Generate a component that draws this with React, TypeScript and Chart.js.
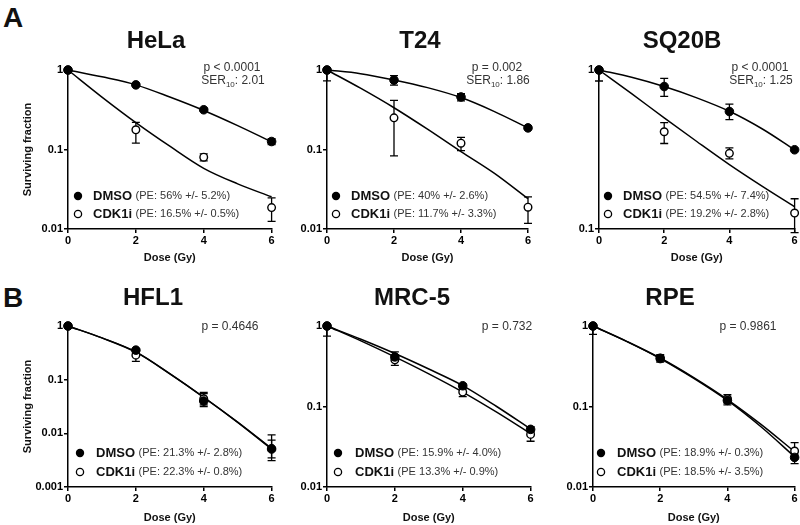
import React, { useEffect, useRef } from "react";
import { Chart, registerables } from "chart.js";
Chart.register(...registerables);

// ---------- data ----------
const doses = [0, 2, 4, 6];
const fitDoses = [0, 1, 2, 3, 4, 5, 6];
const xTicks = [0, 2, 4, 6];
const yTicks3 = [1, 0.1, 0.01];
const yTicks2 = [1, 0.1];
const yTicks4 = [1, 0.1, 0.01, 0.001];

// HeLa
const helaDmso = [1, 0.65, 0.316, 0.126];
const helaDmsoLo = [null, 0.63, 0.305, 0.115];
const helaDmsoHi = [null, 0.67, 0.328, 0.137];
const helaCdk = [1, 0.177, 0.08, 0.0186];
const helaCdkLo = [null, 0.12, 0.072, 0.0125];
const helaCdkHi = [null, 0.22, 0.088, 0.0247];
const helaFitDmso = [1, 0.82, 0.65, 0.457, 0.31, 0.2, 0.125];
const helaFitCdk = [1, 0.457, 0.218, 0.11, 0.058, 0.037, 0.0254];

// T24
const t24Dmso = [1, 0.746, 0.458, 0.187];
const t24DmsoLo = [null, 0.645, 0.41, 0.18];
const t24DmsoHi = [null, 0.85, 0.505, 0.195];
const t24Cdk = [1, 0.25, 0.12, 0.0188];
const t24CdkLo = [0.73, 0.083, 0.097, 0.0118];
const t24CdkHi = [null, 0.416, 0.142, 0.0253];
const t24FitDmso = [1, 0.9, 0.75, 0.6, 0.45, 0.3, 0.187];
const t24FitCdk = [1, 0.59, 0.335, 0.18, 0.094, 0.05, 0.024];

// SQ20B
const sqDmso = [1, 0.787, 0.548, 0.315];
const sqDmsoLo = [null, 0.682, 0.488, null];
const sqDmsoHi = [null, 0.885, 0.61, null];
const sqCdk = [1, 0.409, 0.299, 0.126];
const sqCdkLo = [0.853, 0.345, 0.276, 0.095];
const sqCdkHi = [null, 0.467, 0.324, 0.155];
const sqFitDmso = [1, 0.9, 0.787, 0.668, 0.55, 0.427, 0.315];
const sqFitCdk = [1, 0.71, 0.5, 0.355, 0.254, 0.186, 0.138];

// HFL1
const hflDmso = [1, 0.355, 0.04, 0.0051];
const hflDmsoLo = [null, 0.33, 0.0316, 0.0031];
const hflDmsoHi = [null, 0.38, 0.055, 0.0075];
const hflCdk = [1, 0.286, 0.044, 0.0052];
const hflCdkLo = [null, 0.22, 0.034, 0.0035];
const hflCdkHi = [null, 0.34, 0.058, 0.0094];
const hflFitDmso = [1, 0.6, 0.33, 0.13, 0.047, 0.016, 0.0051];
const hflFitCdk = [1, 0.6, 0.325, 0.128, 0.047, 0.0162, 0.0052];

// MRC-5
const mrcDmso = [1, 0.413, 0.181, 0.052];
const mrcDmsoLo = [null, 0.37, 0.17, 0.048];
const mrcDmsoHi = [null, 0.476, 0.19, 0.056];
const mrcCdk = [1, 0.38, 0.151, 0.045];
const mrcCdkLo = [0.75, 0.325, 0.133, 0.037];
const mrcCdkHi = [null, 0.43, 0.165, 0.05];
const mrcFitDmso = [1, 0.684, 0.455, 0.292, 0.182, 0.1, 0.0525];
const mrcFitCdk = [1, 0.653, 0.413, 0.254, 0.151, 0.085, 0.046];

// RPE
const rpeDmso = [1, 0.394, 0.119, 0.0233];
const rpeDmsoLo = [null, 0.355, 0.11, 0.0195];
const rpeDmsoHi = [null, 0.44, 0.13, 0.0266];
const rpeCdk = [1, 0.4, 0.125, 0.028];
const rpeCdkLo = [0.787, 0.37, 0.105, 0.025];
const rpeCdkHi = [null, 0.43, 0.14, 0.0355];
const rpeFitDmso = [1, 0.645, 0.395, 0.224, 0.119, 0.056, 0.0237];
const rpeFitCdk = [1, 0.645, 0.4, 0.228, 0.122, 0.06, 0.0274];

// ---------- layout / styling ----------
const FONT = "'Liberation Sans', Arial, Helvetica, sans-serif";

type Panel = {
  title: string;
  pLine: string;
  ser?: string;
  dmsoPE: string;
  cdkPE: string;
  dmso: number[]; dmsoLo: (number | null)[]; dmsoHi: (number | null)[];
  cdk: number[]; cdkLo: (number | null)[]; cdkHi: (number | null)[];
  fitDmso: number[]; fitCdk: number[];
  yTicks: number[]; yMin: number; yMax: number;
  yTitle: boolean;
  canvas: { x: number; y: number; w: number; h: number };
  plot: { l: number; r: number; t: number; b: number };
  titleX: number; titleY: number;
  pX: number; pY: number;
  legX: number; legTextX: number; legY1: number; legY2: number;
  doseY: number;
};

const rowA = { t: 70, b: 229, titleY: 41, doseY: 258, legY1: 196, legY2: 214, pY: 68 };
const rowB = { t: 326, b: 487, titleY: 298, doseY: 518, legY1: 453, legY2: 472, pY: 327 };
const canA = { y: 20, h: 248 };
const canB = { y: 280, h: 245 };
const col1 = { x: 0, w: 277 };
const col2 = { x: 280, w: 256 };
const col3 = { x: 540, w: 260 };

const panels: Panel[] = [
  {
    title: "HeLa", pLine: "p < 0.0001", ser: "2.01",
    dmsoPE: "(PE: 56% +/- 5.2%)", cdkPE: "(PE: 16.5% +/- 0.5%)",
    dmso: helaDmso, dmsoLo: helaDmsoLo, dmsoHi: helaDmsoHi,
    cdk: helaCdk, cdkLo: helaCdkLo, cdkHi: helaCdkHi,
    fitDmso: helaFitDmso, fitCdk: helaFitCdk,
    yTicks: yTicks3, yMin: 0.01, yMax: 1, yTitle: true,
    canvas: { ...col1, ...canA }, plot: { l: 68, r: 272, t: rowA.t, b: rowA.b },
    titleX: 156, titleY: rowA.titleY, pX: 232, pY: rowA.pY,
    legX: 78, legTextX: 93, legY1: rowA.legY1, legY2: rowA.legY2, doseY: rowA.doseY,
  },
  {
    title: "T24", pLine: "p = 0.002", ser: "1.86",
    dmsoPE: "(PE: 40% +/- 2.6%)", cdkPE: "(PE: 11.7% +/- 3.3%)",
    dmso: t24Dmso, dmsoLo: t24DmsoLo, dmsoHi: t24DmsoHi,
    cdk: t24Cdk, cdkLo: t24CdkLo, cdkHi: t24CdkHi,
    fitDmso: t24FitDmso, fitCdk: t24FitCdk,
    yTicks: yTicks3, yMin: 0.01, yMax: 1, yTitle: false,
    canvas: { ...col2, ...canA }, plot: { l: 327, r: 528, t: rowA.t, b: rowA.b },
    titleX: 420, titleY: rowA.titleY, pX: 497, pY: rowA.pY,
    legX: 336, legTextX: 351, legY1: rowA.legY1, legY2: rowA.legY2, doseY: rowA.doseY,
  },
  {
    title: "SQ20B", pLine: "p < 0.0001", ser: "1.25",
    dmsoPE: "(PE: 54.5% +/- 7.4%)", cdkPE: "(PE: 19.2% +/- 2.8%)",
    dmso: sqDmso, dmsoLo: sqDmsoLo, dmsoHi: sqDmsoHi,
    cdk: sqCdk, cdkLo: sqCdkLo, cdkHi: sqCdkHi,
    fitDmso: sqFitDmso, fitCdk: sqFitCdk,
    yTicks: yTicks2, yMin: 0.1, yMax: 1, yTitle: false,
    canvas: { ...col3, ...canA }, plot: { l: 599, r: 796, t: rowA.t, b: rowA.b },
    titleX: 682, titleY: rowA.titleY, pX: 760, pY: rowA.pY,
    legX: 608, legTextX: 623, legY1: rowA.legY1, legY2: rowA.legY2, doseY: rowA.doseY,
  },
  {
    title: "HFL1", pLine: "p = 0.4646",
    dmsoPE: "(PE: 21.3% +/- 2.8%)", cdkPE: "(PE: 22.3% +/- 0.8%)",
    dmso: hflDmso, dmsoLo: hflDmsoLo, dmsoHi: hflDmsoHi,
    cdk: hflCdk, cdkLo: hflCdkLo, cdkHi: hflCdkHi,
    fitDmso: hflFitDmso, fitCdk: hflFitCdk,
    yTicks: yTicks4, yMin: 0.001, yMax: 1, yTitle: true,
    canvas: { ...col1, ...canB }, plot: { l: 68, r: 272, t: rowB.t, b: rowB.b },
    titleX: 153, titleY: rowB.titleY, pX: 230, pY: rowB.pY,
    legX: 80, legTextX: 96, legY1: rowB.legY1, legY2: rowB.legY2, doseY: rowB.doseY,
  },
  {
    title: "MRC-5", pLine: "p = 0.732",
    dmsoPE: "(PE: 15.9% +/- 4.0%)", cdkPE: "(PE 13.3% +/- 0.9%)",
    dmso: mrcDmso, dmsoLo: mrcDmsoLo, dmsoHi: mrcDmsoHi,
    cdk: mrcCdk, cdkLo: mrcCdkLo, cdkHi: mrcCdkHi,
    fitDmso: mrcFitDmso, fitCdk: mrcFitCdk,
    yTicks: yTicks3, yMin: 0.01, yMax: 1, yTitle: false,
    canvas: { ...col2, ...canB }, plot: { l: 327, r: 531, t: rowB.t, b: rowB.b },
    titleX: 412, titleY: rowB.titleY, pX: 507, pY: rowB.pY,
    legX: 338, legTextX: 355, legY1: rowB.legY1, legY2: rowB.legY2, doseY: rowB.doseY,
  },
  {
    title: "RPE", pLine: "p = 0.9861",
    dmsoPE: "(PE: 18.9% +/- 0.3%)", cdkPE: "(PE: 18.5% +/- 3.5%)",
    dmso: rpeDmso, dmsoLo: rpeDmsoLo, dmsoHi: rpeDmsoHi,
    cdk: rpeCdk, cdkLo: rpeCdkLo, cdkHi: rpeCdkHi,
    fitDmso: rpeFitDmso, fitCdk: rpeFitCdk,
    yTicks: yTicks3, yMin: 0.01, yMax: 1, yTitle: false,
    canvas: { ...col3, ...canB }, plot: { l: 593, r: 796, t: rowB.t, b: rowB.b },
    titleX: 670, titleY: rowB.titleY, pX: 748, pY: rowB.pY,
    legX: 601, legTextX: 617, legY1: rowB.legY1, legY2: rowB.legY2, doseY: rowB.doseY,
  },
];

type Part = { t: string; font: string; color: string; dy?: number };

function drawParts(ctx: CanvasRenderingContext2D, parts: Part[], x: number, y: number, align: "left" | "center") {
  ctx.textBaseline = "middle";
  ctx.textAlign = "left";
  let total = 0;
  const widths = parts.map((p) => {
    ctx.font = p.font;
    const w = ctx.measureText(p.t).width;
    total += w;
    return w;
  });
  let cx = align === "center" ? x - total / 2 : x;
  parts.forEach((p, i) => {
    ctx.font = p.font;
    ctx.fillStyle = p.color;
    ctx.fillText(p.t, cx, y + (p.dy || 0));
    cx += widths[i];
  });
}

function PanelChart({ p }: { p: Panel }) {
  const ref = useRef<HTMLCanvasElement>(null);
  useEffect(() => {
    const canvas = ref.current!;
    const ox = p.canvas.x;
    const oy = p.canvas.y;
    const pts = (vals: number[], xs: number[]) => vals.map((v, i) => ({ x: xs[i], y: v }));

    const decor = {
      id: "decor",
      beforeDatasetsDraw(chart: any) {
        const ctx: CanvasRenderingContext2D = chart.ctx;
        const xs = chart.scales.x;
        const ys = chart.scales.y;
        ctx.save();
        ctx.strokeStyle = "#000";
        ctx.lineWidth = 1.3;
        const bars = (vals: number[], lo: (number | null)[], hi: (number | null)[]) => {
          vals.forEach((v, i) => {
            const l = lo[i];
            const h = hi[i];
            if (l == null && h == null) return;
            const px = xs.getPixelForValue(doses[i]);
            const y1 = ys.getPixelForValue(l == null ? v : l);
            const y2 = ys.getPixelForValue(h == null ? v : h);
            ctx.beginPath();
            ctx.moveTo(px, y1);
            ctx.lineTo(px, y2);
            if (l != null) { ctx.moveTo(px - 4, y1); ctx.lineTo(px + 4, y1); }
            if (h != null) { ctx.moveTo(px - 4, y2); ctx.lineTo(px + 4, y2); }
            ctx.stroke();
          });
        };
        bars(p.cdk, p.cdkLo, p.cdkHi);
        bars(p.dmso, p.dmsoLo, p.dmsoHi);
        ctx.restore();
      },
      afterDraw(chart: any) {
        const ctx: CanvasRenderingContext2D = chart.ctx;
        const area = chart.chartArea;
        ctx.save();
        // title
        ctx.font = `bold 24px ${FONT}`;
        ctx.fillStyle = "#111";
        ctx.textAlign = "center";
        ctx.textBaseline = "middle";
        ctx.fillText(p.title, p.titleX - ox, p.titleY - oy);
        // x title
        ctx.font = `bold 11px ${FONT}`;
        ctx.fillStyle = "#111";
        ctx.fillText("Dose (Gy)", (area.left + area.right) / 2, p.doseY - oy);
        // y title
        if (p.yTitle) {
          ctx.save();
          ctx.translate(28 - ox, (area.top + area.bottom) / 2);
          ctx.rotate(-Math.PI / 2);
          ctx.font = `bold 11px ${FONT}`;
          ctx.fillText("Surviving fraction", 0, 0);
          ctx.restore();
        }
        // p value + SER
        const norm = `12px ${FONT}`;
        drawParts(ctx, [{ t: p.pLine, font: norm, color: "#333" }], p.pX - ox, p.pY - oy, "center");
        if (p.ser) {
          drawParts(
            ctx,
            [
              { t: "SER", font: norm, color: "#333" },
              { t: "10", font: `8px ${FONT}`, color: "#333", dy: 4 },
              { t: ": " + p.ser, font: norm, color: "#333" },
            ],
            p.pX - ox + 1,
            p.pY - oy + 13,
            "center"
          );
        }
        // legend
        const lx = p.legX - ox;
        ctx.beginPath();
        ctx.arc(lx, p.legY1 - oy, 4.2, 0, Math.PI * 2);
        ctx.fillStyle = "#000";
        ctx.fill();
        ctx.beginPath();
        ctx.arc(lx, p.legY2 - oy, 3.6, 0, Math.PI * 2);
        ctx.fillStyle = "#fff";
        ctx.fill();
        ctx.lineWidth = 1.3;
        ctx.strokeStyle = "#000";
        ctx.stroke();
        const bold = `bold 13px ${FONT}`;
        const pe = `11px ${FONT}`;
        drawParts(ctx, [{ t: "DMSO ", font: bold, color: "#111" }, { t: p.dmsoPE, font: pe, color: "#333" }], p.legTextX - ox, p.legY1 - oy, "left");
        drawParts(ctx, [{ t: "CDK1i ", font: bold, color: "#111" }, { t: p.cdkPE, font: pe, color: "#333" }], p.legTextX - ox, p.legY2 - oy, "left");
        ctx.restore();
      },
    };

    const tickFont = { family: FONT, size: 11, weight: "bold" as const };
    const gridCfg = { drawOnChartArea: false, drawTicks: true, tickLength: 4, color: "#000", lineWidth: 1.5 };
    const borderCfg = { color: "#000", width: 1.5 };

    const chart = new Chart(canvas, {
      type: "line",
      data: {
        datasets: [
          {
            label: "DMSO",
            data: pts(p.dmso, doses),
            showLine: false,
            pointRadius: 4.3,
            pointBackgroundColor: "#000",
            pointBorderColor: "#000",
            pointBorderWidth: 1,
            order: 0,
            clip: false,
          } as any,
          {
            label: "CDK1i",
            data: pts(p.cdk, doses),
            showLine: false,
            pointRadius: 3.8,
            pointBackgroundColor: "#fff",
            pointBorderColor: "#000",
            pointBorderWidth: 1.4,
            order: 1,
            clip: false,
          },
          {
            label: "DMSO fit",
            data: pts(p.fitDmso, fitDoses),
            pointRadius: 0,
            borderColor: "#000",
            borderWidth: 1.5,
            cubicInterpolationMode: "monotone",
            fill: false,
            order: 2,
            clip: false,
          },
          {
            label: "CDK1i fit",
            data: pts(p.fitCdk, fitDoses),
            pointRadius: 0,
            borderColor: "#000",
            borderWidth: 1.5,
            cubicInterpolationMode: "monotone",
            fill: false,
            order: 3,
            clip: false,
          },
        ],
      },
      options: {
        responsive: false,
        animation: false,
        devicePixelRatio: 1,
        events: [],
        layout: {
          padding: {
            top: p.plot.t - oy,
            right: ox + p.canvas.w - p.plot.r,
            left: 0,
            bottom: 0,
          },
        },
        plugins: { legend: { display: false }, tooltip: { enabled: false }, title: { display: false } },
        scales: {
          x: {
            type: "linear",
            min: 0,
            max: 6,
            afterBuildTicks: (s: any) => {
              s.ticks = xTicks.map((v) => ({ value: v }));
            },
            afterFit: (s: any) => {
              s.height = oy + p.canvas.h - p.plot.b;
            },
            ticks: { font: tickFont, color: "#000", padding: 1, maxRotation: 0, autoSkip: false },
            grid: gridCfg,
            border: borderCfg,
          },
          y: {
            type: "logarithmic",
            min: p.yMin,
            max: p.yMax,
            afterBuildTicks: (s: any) => {
              s.ticks = p.yTicks.map((v) => ({ value: v }));
            },
            afterFit: (s: any) => {
              s.width = p.plot.l - ox;
            },
            ticks: { font: tickFont, color: "#000", padding: 1, autoSkip: false, callback: (v: any) => String(v) },
            grid: gridCfg,
            border: borderCfg,
          },
        },
      },
      plugins: [decor],
    } as any);
    return () => chart.destroy();
  }, [p]);
  return (
    <canvas
      ref={ref}
      width={p.canvas.w}
      height={p.canvas.h}
      style={{ position: "absolute", left: p.canvas.x, top: p.canvas.y, width: p.canvas.w, height: p.canvas.h }}
    />
  );
}

export default function App() {
  const letter: React.CSSProperties = {
    position: "absolute",
    left: 3,
    fontFamily: FONT,
    fontWeight: "bold",
    fontSize: 28,
    lineHeight: "28px",
    color: "#111",
  };
  return (
    <div style={{ position: "absolute", left: 0, top: 0, width: 800, height: 525, background: "#fff", overflow: "hidden" }}>
      <div style={{ ...letter, top: 4 }}>A</div>
      <div style={{ ...letter, top: 284 }}>B</div>
      {panels.map((p) => (
        <PanelChart key={p.title} p={p} />
      ))}
    </div>
  );
}
